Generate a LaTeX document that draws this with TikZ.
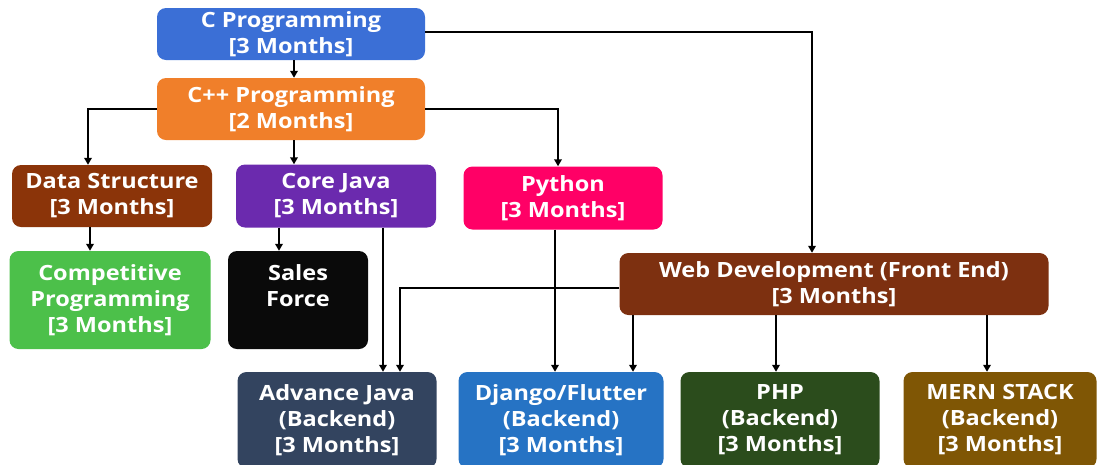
\documentclass[tikz,border=0pt]{standalone}
\usepackage{fontspec}
\setmainfont{Open Sans}[FakeStretch=1.12]
\usetikzlibrary{arrows.meta}
\definecolor{cC}{HTML}{3B6FD6}
\definecolor{cCpp}{HTML}{F07F2A}
\definecolor{cDS}{HTML}{8B3409}
\definecolor{cCJ}{HTML}{6B2AAE}
\definecolor{cPy}{HTML}{FF0066}
\definecolor{cComp}{HTML}{4CC04A}
\definecolor{cSales}{HTML}{0A0A0A}
\definecolor{cWeb}{HTML}{7D3010}
\definecolor{cAJ}{HTML}{33445F}
\definecolor{cDj}{HTML}{2673C4}
\definecolor{cPHP}{HTML}{2B4C1C}
\definecolor{cMern}{HTML}{7F5605}
\tikzset{
  box/.style={rounded corners=9pt, text=white, align=center, inner sep=0pt,
    font=\fontsize{21}{26}\selectfont\bfseries},
  sz/.style 2 args={minimum width=#1pt, minimum height=#2pt},
  arr/.style={line width=2.2pt, black, -{Triangle[length=7pt,width=7.5pt]}},
}
\newcommand{\mo}[1]{{[#1 Months]}}
\begin{document}
\begin{tikzpicture}[x=1pt,y=-1pt]
\useasboundingbox (0,0) rectangle (1099,464);
\node[box, sz={268}{52}, fill=cC] (c) at (291,34) {C Programming\\\mo{3}};
\node[box, sz={268}{62}, fill=cCpp] (cpp) at (291,109) {C++ Programming\\\mo{2}};
\node[box, sz={200}{62}, fill=cDS] (ds) at (112,196) {Data Structure\\\mo{3}};
\node[box, sz={200}{63}, fill=cCJ] (cj) at (336,196) {Core Java\\\mo{3}};
\node[box, sz={199}{63}, fill=cPy] (py) at (563,198) {Python\\\mo{3}};
\node[box, sz={201}{98}, fill=cComp] (comp) at (110,300) {Competitive\\Programming\\\mo{3}};
\node[box, sz={140}{98}, fill=cSales] (sales) at (298,300) {};
\node[box, anchor=north] (salest) at (298,264) {Sales\\Force};
\node[box, sz={429}{62}, fill=cWeb] (web) at (834,284) {Web Development (Front End)\\\mo{3}};
\node[box, sz={199}{96}, fill=cAJ] (aj) at (337,420) {Advance Java\\(Backend)\\\mo{3}};
\node[box, sz={205}{96}, fill=cDj] (dj) at (561,420) {Django/Flutter\\(Backend)\\\mo{3}};
\node[box, sz={199}{96}, fill=cPHP] (php) at (780,420) {PHP\\(Backend)\\\mo{3}};
\node[box, sz={193}{96}, fill=cMern] (mern) at (1000,420) {MERN STACK\\(Backend)\\\mo{3}};

\draw[arr] ([xshift=3pt]c.south) -- ([xshift=3pt]c.south |- cpp.north);
\draw[arr] ([yshift=2pt]c.east) -| ([xshift=-22pt]web.north);
\draw[arr] (cpp.west) -| ([xshift=-24pt]ds.north);
\draw[arr] ([xshift=3pt]cpp.south) -- ([xshift=3pt]cpp.south |- cj.north);
\draw[arr] (cpp.east) -| ([xshift=-5pt]py.north);
\draw[arr] ([xshift=-22pt]ds.south) -- ([xshift=-22pt]ds.south |- comp.north);
\draw[arr] ([xshift=-57pt]cj.south) -- ([xshift=-57pt]cj.south |- sales.north);
\draw[arr] ([xshift=47pt]cj.south) -- ([xshift=47pt]cj.south |- aj.north);
\draw[arr] ([xshift=-8pt]py.south) -- ([xshift=-8pt]py.south |- dj.north);
\draw[arr] ([yshift=-4pt]web.west) -| ([xshift=63pt]aj.north);
\draw[arr] ([xshift=-201pt]web.south) -- ([xshift=-201pt]web.south |- dj.north);
\draw[arr] ([xshift=-58pt]web.south) -- ([xshift=-58pt]web.south |- php.north);
\draw[arr] ([xshift=153pt]web.south) -- ([xshift=153pt]web.south |- mern.north);
\end{tikzpicture}
\end{document}
